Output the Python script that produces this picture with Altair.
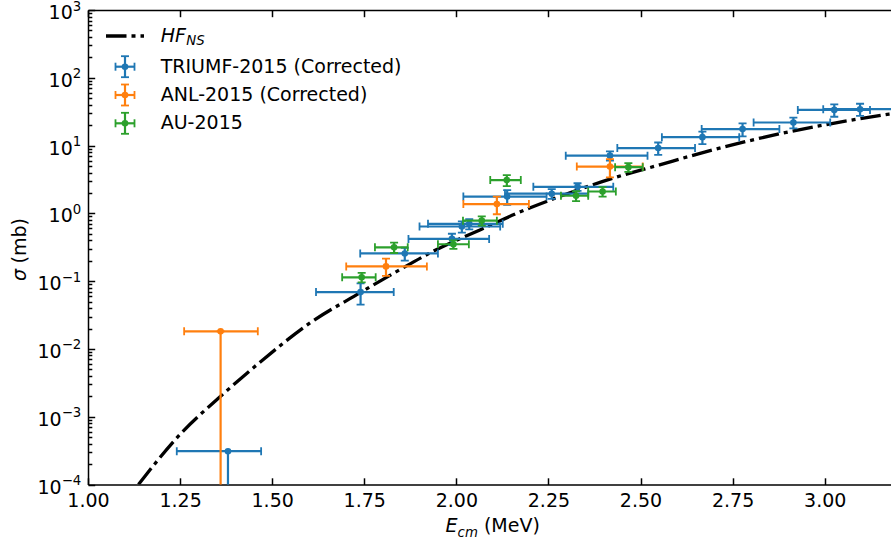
import altair as alt
import pandas as pd

FONT = "DejaVu Sans"

# HF_NS calculated cross section (E_cm in MeV, sigma in mb)
hf_E = [1.137, 1.25, 1.36, 1.476, 1.603, 1.738, 1.847, 1.928, 2.064, 2.199,
        2.284, 2.417, 2.552, 2.697, 2.887, 3.18]
hf_sigma = [1.0e-4, 5.5e-4, 2.0e-3, 7.0e-3, 0.0242, 0.067, 0.148, 0.26, 0.57, 1.20,
            1.8, 3.2, 5.2, 8.65, 15.3, 29.5]

# TRIUMF-2015 (corrected): energy, energy-bin edges, cross section and its errors
triumf_E = [1.38, 1.74, 1.86, 1.988, 2.015, 2.035, 2.138, 2.259, 2.329, 2.417,
            2.548, 2.668, 2.777, 2.915, 3.026, 3.096]
triumf_E_lo = [1.241, 1.619, 1.739, 1.870, 1.900, 1.923, 2.019, 2.132, 2.209, 2.297,
               2.437, 2.558, 2.666, 2.807, 2.927, 2.996]
triumf_E_hi = [1.470, 1.830, 1.950, 2.089, 2.119, 2.126, 2.245, 2.358, 2.426, 2.519,
               2.648, 2.768, 2.877, 3.015, 3.123, 3.20]
triumf_sigma = [3.1e-4, 0.069, 0.256, 0.42, 0.64, 0.70, 1.77, 1.95, 2.46, 7.1,
                9.2, 13.3, 17.5, 21.9, 33.6, 34.4]
triumf_err_lo = [3.1e-4, 0.024, 0.055, 0.08, 0.12, 0.12, 0.43, 0.32, 0.32, 1.1,
                 1.9, 2.8, 3.8, 4.0, 7.0, 7.0]
triumf_err_hi = [0.0, 0.024, 0.055, 0.08, 0.12, 0.12, 0.43, 0.32, 0.32, 1.1,
                 1.9, 2.8, 3.8, 4.0, 7.0, 7.0]

# ANL-2015 (corrected)
anl_E = [1.36, 1.809, 2.110, 2.417]
anl_E_lo = [1.261, 1.701, 2.019, 2.327]
anl_E_hi = [1.461, 1.920, 2.197, 2.506]
anl_sigma = [0.0182, 0.165, 1.37, 4.9]
anl_err_lo = [0.0182, 0.045, 0.4, 1.5]
anl_err_hi = [0.0, 0.05, 0.4, 1.4]

# AU-2015
au_E = [1.743, 1.831, 1.992, 2.069, 2.137, 2.325, 2.397, 2.467]
au_E_lo = [1.690, 1.779, 1.950, 2.018, 2.092, 2.284, 2.358, 2.431]
au_E_hi = [1.781, 1.868, 2.034, 2.110, 2.175, 2.358, 2.433, 2.506]
au_sigma = [0.114, 0.315, 0.35, 0.78, 3.1, 1.82, 2.1, 4.8]
au_err_lo = [0.018, 0.055, 0.05, 0.12, 0.57, 0.3, 0.33, 0.7]
au_err_hi = [0.018, 0.055, 0.05, 0.12, 0.57, 0.3, 0.33, 0.7]

series_names = ["TRIUMF-2015 (Corrected)", "ANL-2015 (Corrected)", "AU-2015"]
series_colors = ["#1f77b4", "#ff7f0e", "#2ca02c"]

x_tick_values = [1.00, 1.25, 1.50, 1.75, 2.00, 2.25, 2.50, 2.75, 3.00]
y_tick_exponents = [-4, -3, -2, -1, 0, 1, 2, 3]

W, H = 803, 474.5
MAJOR, MINOR = 6.7, 3.8
xs = alt.Scale(domain=[1.0, 3.18], nice=False, zero=False)
ys = alt.Scale(type="log", domain=[1e-4, 1e3], nice=False)


def X(field):
    return alt.X(f"{field}:Q", scale=xs, axis=None)


def Y(field):
    return alt.Y(f"{field}:Q", scale=ys, axis=None)


def measurement_table(E, E_lo, E_hi, sigma, err_lo, err_hi):
    df = pd.DataFrame({"E": E, "E_lo": E_lo, "E_hi": E_hi, "sigma": sigma})
    lo = df["sigma"] - pd.Series(err_lo)
    # a non-positive lower bound runs off the bottom of the log axis
    df["s_lo"] = lo.where(lo > 0, 1e-12)
    df["s_hi"] = df["sigma"] + pd.Series(err_hi)
    return df


def errorbar_layers(df, color):
    c = alt.Chart(df)
    bar = dict(color=color, strokeWidth=2.2, clip=True)
    cap = dict(color=color, size=8, thickness=1.8, opacity=1, clip=True)
    return [
        c.mark_rule(**bar).encode(x=X("E_lo"), x2="E_hi", y=Y("sigma")),
        c.mark_rule(**bar).encode(x=X("E"), y=Y("s_lo"), y2="s_hi"),
        c.mark_tick(orient="vertical", **cap).encode(x=X("E_lo"), y=Y("sigma")),
        c.mark_tick(orient="vertical", **cap).encode(x=X("E_hi"), y=Y("sigma")),
        c.mark_tick(orient="horizontal", **cap).encode(x=X("E"), y=Y("s_lo")),
        c.mark_tick(orient="horizontal", **cap).encode(x=X("E"), y=Y("s_hi")),
        c.mark_circle(color=color, size=44, opacity=1, clip=True).encode(x=X("E"), y=Y("sigma")),
    ]


hf_df = pd.DataFrame({"E": hf_E, "sigma": hf_sigma})
HF_DASH = [20.5, 5, 4, 5]

layers = [
    alt.Chart(hf_df).mark_line(color="black", strokeWidth=3.3, strokeDash=HF_DASH,
                               clip=True, interpolate="monotone")
    .encode(x=X("E"), y=Y("sigma"))
]

tables = [
    measurement_table(triumf_E, triumf_E_lo, triumf_E_hi, triumf_sigma, triumf_err_lo, triumf_err_hi),
    measurement_table(anl_E, anl_E_lo, anl_E_hi, anl_sigma, anl_err_lo, anl_err_hi),
    measurement_table(au_E, au_E_lo, au_E_hi, au_sigma, au_err_lo, au_err_hi),
]
for df, color in zip(tables, series_colors):
    layers += errorbar_layers(df, color)

# ---- axes: frame lines, inward ticks, labels ----
common = dict(grid=False, title=None, domainColor="black", tickColor="black",
              domainWidth=1.5, tickWidth=1.5)
y_major = [10.0 ** e for e in y_tick_exponents]
y_minor = [m * 10.0 ** e for e in y_tick_exponents[:-1] for m in range(2, 10)]

axes_src = alt.Chart(hf_df)


def axis_layer(x_axis, y_axis):
    return axes_src.mark_point(opacity=0).encode(
        x=alt.X("E:Q", scale=xs, axis=x_axis),
        y=alt.Y("sigma:Q", scale=ys, axis=y_axis),
    )


layers += [
    axis_layer(
        alt.Axis(orient="bottom", values=x_tick_values, format=".2f", ticks=False,
                 domain=True, labelPadding=7, labelFont=FONT, labelFontSize=19,
                 labelColor="black", labelFlush=False, labelOverlap=False, **common),
        alt.Axis(orient="left", ticks=False, labels=False, domain=True, **common),
    ),
    axis_layer(
        alt.Axis(orient="bottom", values=x_tick_values, tickSize=MAJOR, offset=-MAJOR,
                 labels=False, domain=False, **common),
        None,
    ),
    axis_layer(
        alt.Axis(orient="top", ticks=False, labels=False, domain=True, **common),
        None,
    ),
    axis_layer(
        alt.Axis(orient="top", values=x_tick_values, tickSize=MAJOR, offset=-MAJOR,
                 labels=False, domain=False, **common),
        None,
    ),
    axis_layer(
        None,
        alt.Axis(orient="left", values=y_major, tickSize=MAJOR, offset=-MAJOR,
                 labels=False, domain=False, **common),
    ),
    axis_layer(
        None,
        alt.Axis(orient="left", values=y_minor, tickSize=MINOR, offset=-MINOR,
                 labels=False, domain=False, **common),
    ),
]

# y tick labels written as 10 with a raised exponent
ylab = pd.DataFrame({
    "v": y_major,
    "exp": [str(e).replace("-", "\u2212") for e in y_tick_exponents],
    "neg": [e < 0 for e in y_tick_exponents],
})
EXP_W = {True: 19.6, False: 8.5}
for neg in (True, False):
    sub = ylab[ylab["neg"] == neg]
    layers.append(
        alt.Chart(sub).mark_text(text="10", align="right", baseline="middle",
                                 dx=-(MAJOR + EXP_W[neg]), dy=3, font=FONT,
                                 fontSize=19, color="black")
        .encode(x=alt.value(0), y=Y("v"))
    )
layers.append(
    alt.Chart(ylab).mark_text(align="right", baseline="middle", dx=-MAJOR, dy=-3.5,
                              font=FONT, fontSize=13.3, color="black")
    .encode(x=alt.value(0), y=Y("v"), text="exp:N")
)

one = alt.Chart(pd.DataFrame({"k": [0]}))


def label(text, x, y, size=19, italic=False, align="left", baseline="alphabetic", angle=0):
    kw = dict(text=text, font=FONT, fontSize=size, color="black", align=align,
              baseline=baseline)
    if italic:
        kw["fontStyle"] = "italic"
    if angle:
        kw["angle"] = angle
    return one.mark_text(**kw).encode(x=alt.value(x), y=alt.value(y))


# axis titles
layers += [
    label("E", 357.6, 522, italic=True),
    label("cm", 369.6, 526.5, size=13.3, italic=True),
    label("(MeV)", 395.9, 522),
    label("\u03c3", -68, 271, italic=True, angle=270, baseline="middle"),
    label("(mb)", -68, 253.5, angle=270, baseline="middle"),
]

# legend
LEG_TEXT_X = 72.7
layers += [
    one.mark_rule(color="black", strokeWidth=3.3, strokeDash=HF_DASH)
    .encode(x=alt.value(18), x2=alt.value(56), y=alt.value(26)),
    label("HF", LEG_TEXT_X, 26, italic=True, baseline="middle"),
    label("NS", LEG_TEXT_X + 25.5, 30.5, size=13.3, italic=True, baseline="middle"),
]
for i, (name, color) in enumerate(zip(series_names, series_colors)):
    cy = 56.7 + 28.3 * i
    cx = 37
    layers += [
        one.mark_rule(color=color, strokeWidth=2.2)
        .encode(x=alt.value(cx - 9.5), x2=alt.value(cx + 9.5), y=alt.value(cy)),
        one.mark_rule(color=color, strokeWidth=2.2)
        .encode(x=alt.value(cx), y=alt.value(cy - 10.5), y2=alt.value(cy + 10.5)),
        one.mark_rule(color=color, strokeWidth=1.8)
        .encode(x=alt.value(cx - 9.5), y=alt.value(cy - 4), y2=alt.value(cy + 4)),
        one.mark_rule(color=color, strokeWidth=1.8)
        .encode(x=alt.value(cx + 9.5), y=alt.value(cy - 4), y2=alt.value(cy + 4)),
        one.mark_rule(color=color, strokeWidth=1.8)
        .encode(x=alt.value(cx - 4), x2=alt.value(cx + 4), y=alt.value(cy - 10.5)),
        one.mark_rule(color=color, strokeWidth=1.8)
        .encode(x=alt.value(cx - 4), x2=alt.value(cx + 4), y=alt.value(cy + 10.5)),
        one.mark_circle(color=color, size=44, opacity=1)
        .encode(x=alt.value(cx), y=alt.value(cy)),
        label(name, LEG_TEXT_X, cy, baseline="middle"),
    ]

chart = (
    alt.layer(*layers)
    .properties(
        width=W,
        height=H,
        autosize=alt.AutoSizeParams(type="none"),
        padding={"left": 88, "top": 10, "right": 0, "bottom": 540 - 10 - H},
        background="white",
    )
    .resolve_axis(x="independent", y="independent")
    .configure_view(stroke=None)
)

chart.save("out.html", embed_options={"renderer": "svg", "actions": False})
